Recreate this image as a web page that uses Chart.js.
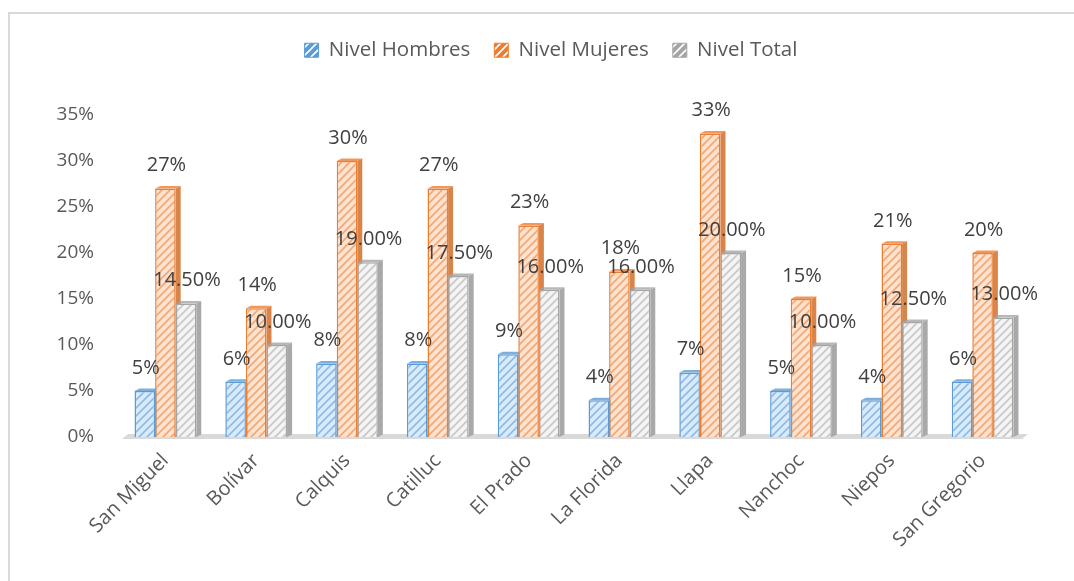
<!DOCTYPE html>
<html>
<head>
<meta charset="utf-8">
<script src="https://cdn.jsdelivr.net/npm/chart.js@4.4.0/dist/chart.umd.min.js"></script>
<style>
  html, body { margin: 0; padding: 0; background: #fff; }
  #frame {
    position: absolute; left: 8px; top: 12px; width: 1080px; height: 600px;
    border-top: 2px solid #d9d9d9; border-left: 2px solid #d9d9d9;
  }
  #wrap { position: absolute; left: 0; top: 0; width: 1074px; height: 581px; }
</style>
</head>
<body>
<div id="frame"></div>
<div id="wrap"><canvas id="chart"></canvas></div>
<script>
// categories and values
const municipios = ["San Miguel", "Bolívar", "Calquis", "Catilluc", "El Prado", "La Florida", "Llapa", "Nanchoc", "Niepos", "San Gregorio"];
const nivelHombres = [5, 6, 8, 8, 9, 4, 7, 5, 4, 6];
const nivelMujeres = [27, 14, 30, 27, 23, 18, 33, 15, 21, 20];
const nivelTotal = [14.5, 10, 19, 17.5, 16, 16, 20, 10, 12.5, 13];
const yTicks = [0, 5, 10, 15, 20, 25, 30, 35];

const font = "'Open Sans', 'DejaVu Sans', sans-serif";
const textColor = "#595959";

//make a diagonal hatch pattern
function hatch(bg, line) {
  const c = document.createElement("canvas");
  c.width = 8; c.height = 8;
  const g = c.getContext("2d");
  g.fillStyle = bg;
  g.fillRect(0, 0, 8, 8);
  g.strokeStyle = line;
  g.lineWidth = 1.6;
  g.beginPath();
  g.moveTo(-2, 10); g.lineTo(10, -2);
  g.moveTo(-2, 2); g.lineTo(2, -2);
  g.moveTo(6, 10); g.lineTo(10, 6);
  g.stroke();
  return g.createPattern(c, "repeat");
}

const series = [
  { label: "Nivel Hombres", data: nivelHombres, bg: "#dbeaf8", line: "#8dbbe6", edge: "#5b9bd5", side: "#6f9fcc", fmt: v => v + "%" },
  { label: "Nivel Mujeres", data: nivelMujeres, bg: "#fce3d1", line: "#f2a874", edge: "#ed7d31", side: "#d9854a", fmt: v => v + "%" },
  { label: "Nivel Total", data: nivelTotal, bg: "#f4f4f4", line: "#c8c8c8", edge: "#a5a5a5", side: "#a9a9a9", fmt: v => v.toFixed(2) + "%" },
];

//draws a small side and top face so the bars look 3d
const depth3d = {
  id: "depth3d",
  beforeInit(chart) {
    //keep the legend tall so the plot starts lower, like the original
    const fit = chart.legend.fit;
    chart.legend.fit = function () {
      fit.call(this);
      this.height = 99;
    };
  },
  afterLayout(chart) {
    //legend sits a bit right of the plot centre in the original
    chart.legend.left += 66;
  },
  beforeDatasetsDraw(chart) {
    const ctx = chart.ctx;
    const d = 5;
    chart.data.datasets.forEach((ds, i) => {
      const meta = chart.getDatasetMeta(i);
      meta.data.forEach(bar => {
        const l = bar.x - bar.width / 2, r = bar.x + bar.width / 2;
        ctx.save();
        ctx.fillStyle = series[i].side;
        ctx.beginPath();
        ctx.moveTo(r, bar.y);
        ctx.lineTo(r + d, bar.y - d * 0.5);
        ctx.lineTo(r + d, bar.base - d * 0.5);
        ctx.lineTo(r, bar.base);
        ctx.closePath();
        ctx.fill();
        ctx.fillStyle = series[i].edge;
        ctx.globalAlpha = 0.8;
        ctx.beginPath();
        ctx.moveTo(l, bar.y);
        ctx.lineTo(l + d, bar.y - d * 0.5);
        ctx.lineTo(r + d, bar.y - d * 0.5);
        ctx.lineTo(r, bar.y);
        ctx.closePath();
        ctx.fill();
        ctx.restore();
      });
    });
  },
  beforeDraw(chart) {
    // floor of the 3d plot
    const ctx = chart.ctx;
    const x = chart.scales.x, y = chart.scales.y;
    const y0 = y.getPixelForValue(0);
    ctx.save();
    ctx.fillStyle = "#d9d9d9";
    ctx.beginPath();
    ctx.moveTo(x.left + 8, y0 - 3);
    ctx.lineTo(x.right, y0 - 3);
    ctx.lineTo(x.right - 6, y0 + 2);
    ctx.lineTo(x.left + 2, y0 + 2);
    ctx.closePath();
    ctx.fill();
    ctx.restore();
  }
};

//value labels above each bar
const barLabels = {
  id: "barLabels",
  afterDatasetsDraw(chart) {
    const ctx = chart.ctx;
    ctx.save();
    ctx.font = "20px " + font;
    ctx.fillStyle = "#404040";
    ctx.textAlign = "center";
    ctx.textBaseline = "middle";
    chart.data.datasets.forEach((ds, i) => {
      chart.getDatasetMeta(i).data.forEach((bar, j) => {
        ctx.fillText(series[i].fmt(ds.data[j]), bar.x + 1, bar.y - 23);
      });
    });
    ctx.restore();
  }
};

const myChart = new Chart(document.getElementById("chart"), {
  type: "bar",
  plugins: [depth3d, barLabels],
  data: {
    labels: municipios,
    datasets: series.map(s => ({
      label: s.label,
      data: s.data,
      backgroundColor: hatch(s.bg, s.line),
      borderColor: s.edge,
      borderWidth: 1.5,
      categoryPercentage: 0.68,
      barPercentage: 1,
    })),
  },
  options: {
    responsive: true,
    maintainAspectRatio: false,
    animation: false,
    layout: { padding: { left: 8, right: 46, top: 16, bottom: 0 } },
    plugins: {
      tooltip: { enabled: false },
      legend: {
        position: "top",
        labels: {
          font: { family: font, size: 20.5 },
          color: textColor,
          boxWidth: 14,
          boxHeight: 14,
          padding: 24,
          generateLabels(chart) {
            return series.map((s, i) => ({
              text: s.label,
              fillStyle: hatch(s.edge, "#ffffff"),
              strokeStyle: s.edge,
              lineWidth: 1,
              fontColor: textColor,
              datasetIndex: i,
            }));
          },
        },
      },
    },
    scales: {
      x: {
        grid: { display: false, drawTicks: false },
        border: { display: false },
        afterFit(axis) { axis.height = 144; },
        ticks: {
          font: { family: font, size: 20 },
          color: textColor,
          minRotation: 45,
          maxRotation: 45,
          padding: 12,
        },
      },
      y: {
        min: 0,
        max: 35,
        afterBuildTicks(axis) {
          axis.ticks = yTicks.map(v => ({ value: v }));
        },
        afterFit(axis) { axis.width = 112; },
        grid: { display: false, drawTicks: false },
        border: { display: false },
        ticks: {
          font: { family: font, size: 19 },
          color: textColor,
          padding: 26,
          callback: v => v + "%",
        },
      },
    },
  },
});
</script>
</body>
</html>
